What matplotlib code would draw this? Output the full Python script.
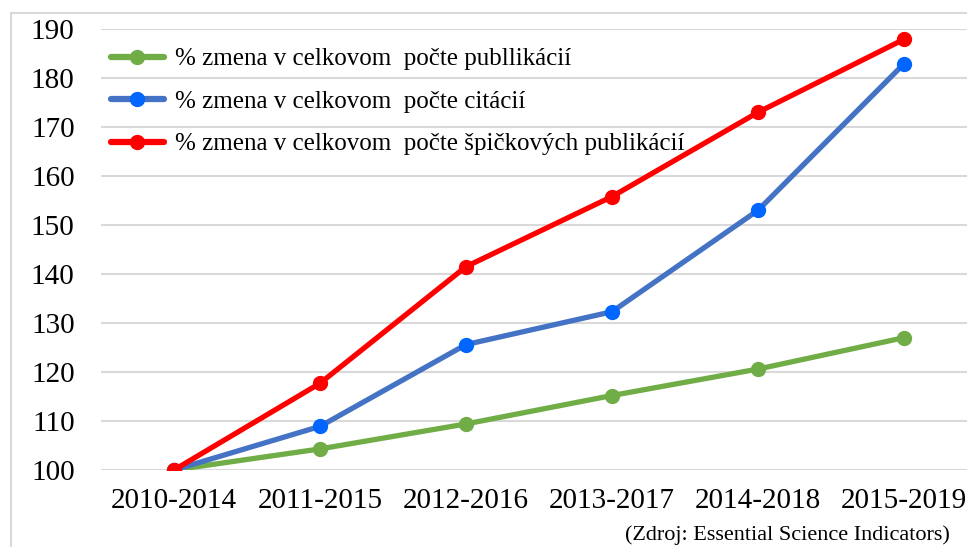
import matplotlib.pyplot as plt
from matplotlib.patches import Rectangle

periods = ['2010-2014', '2011-2015', '2012-2016', '2013-2017', '2014-2018', '2015-2019']
publications = [100, 104.3, 109.4, 115.2, 120.6, 127.0]
citations = [100, 108.9, 125.6, 132.3, 153.0, 182.9]
top_publications = [100, 117.7, 141.5, 155.8, 173.0, 187.9]

labels = ['% zmena v celkovom  počte publlikácií',
          '% zmena v celkovom  počte citácií',
          '% zmena v celkovom  počte špičkových publikácií']

plt.rcParams['font.family'] = ['Liberation Serif', 'DejaVu Serif']

fig = plt.figure(figsize=(9.67, 5.47), dpi=100)
ax = fig.add_axes([101/967, 1 - 470/547, 876/967, 441/547])

x = range(len(periods))
ax.plot(x, publications, color='#70AD47', lw=3.8, marker='o', ms=10,
        mfc='#70AD47', mec='#70AD47', label=labels[0], solid_capstyle='round')
ax.plot(x, citations, color='#4472C4', lw=3.8, marker='o', ms=10,
        mfc='#0066FF', mec='#0066FF', label=labels[1], solid_capstyle='round')
ax.plot(x, top_publications, color='#FF0000', lw=3.8, marker='o', ms=10,
        mfc='#FF0000', mec='#FF0000', label=labels[2], solid_capstyle='round')

ax.set_xlim(-0.5, len(periods) - 0.5)
ax.set_ylim(100, 190)
ax.set_yticks(range(100, 191, 10))
ax.set_xticks(list(x))
ax.set_xticklabels(periods)
ax.tick_params(axis='both', length=0, labelsize=21, colors='black')
ax.tick_params(axis='x', pad=13)
ax.tick_params(axis='y', pad=19)
ax.grid(axis='y', color='#D9D9D9', lw=1.5)
ax.set_axisbelow(True)
for s in ax.spines.values():
    s.set_visible(False)

leg = ax.legend(loc='upper left', bbox_to_anchor=(0.0, 0.98), frameon=False,
                fontsize=18, handlelength=2.1, labelspacing=0.8,
                borderaxespad=0.0, handletextpad=0.45)
for line in leg.get_lines():
    line.set_linewidth(4.5)

fig.text(950/967, 1 - 535/547, '(Zdroj: Essential Science Indicators)',
         fontsize=16, ha='right', va='center')

fig.patches.append(Rectangle((11/967, -0.05), 1.2, 1 - 13/547 + 0.05,
                             transform=fig.transFigure, fill=False,
                             edgecolor='#D9D9D9', lw=1.5))

fig.savefig('out.png', dpi=100)
